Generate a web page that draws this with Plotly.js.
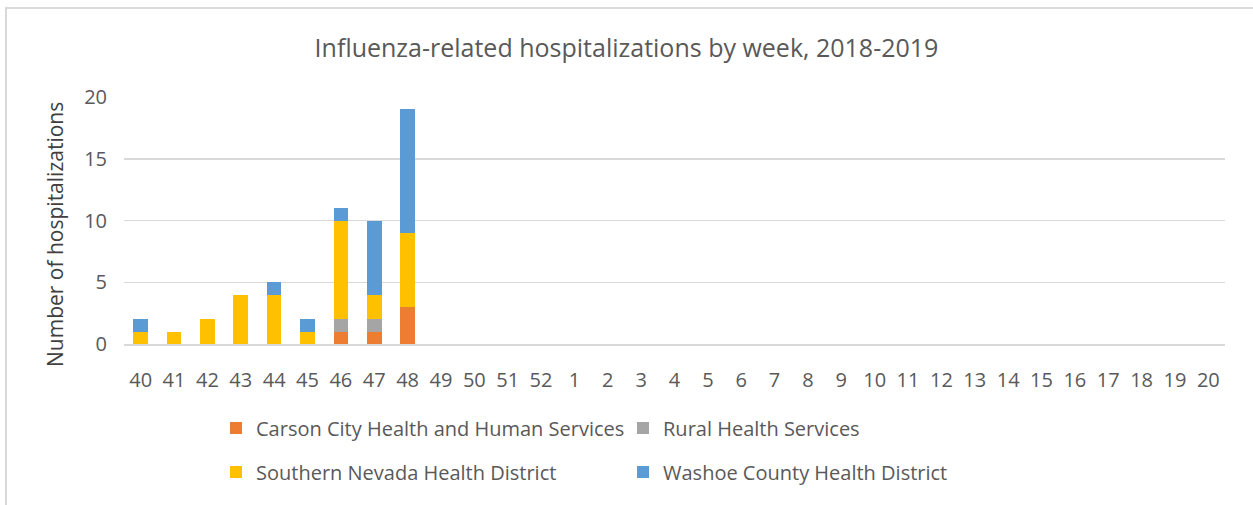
<!DOCTYPE html>
<html>
<head>
<meta charset="utf-8">
<script src="https://cdn.plot.ly/plotly-3.0.1.min.js"></script>
<style>
html,body{margin:0;padding:0;background:#fff;}
#chart{width:1253px;height:505px;}
</style>
</head>
<body>
<div id="chart"></div>
<script>
const weeks = ["40","41","42","43","44","45","46","47","48","49","50","51","52","1","2","3","4","5","6","7","8","9","10","11","12","13","14","15","16","17","18","19","20"];
const carson   = [0,0,0,0,0,0,1,1,3,0,0,0,0,0,0,0,0,0,0,0,0,0,0,0,0,0,0,0,0,0,0,0,0];
const rural    = [0,0,0,0,0,0,1,1,0,0,0,0,0,0,0,0,0,0,0,0,0,0,0,0,0,0,0,0,0,0,0,0,0];
const southern = [1,1,2,4,4,1,8,2,6,0,0,0,0,0,0,0,0,0,0,0,0,0,0,0,0,0,0,0,0,0,0,0,0];
const washoe   = [1,0,0,0,1,1,1,6,10,0,0,0,0,0,0,0,0,0,0,0,0,0,0,0,0,0,0,0,0,0,0,0,0];
const seriesNames = ["Carson City Health and Human Services","Rural Health Services","Southern Nevada Health District","Washoe County Health District"];
const seriesColors = ["#ED7D31","#A5A5A5","#FFC000","#5B9BD5"];
const seriesValues = [carson, rural, southern, washoe];
const legendIds = ["legend","legend","legend2","legend2"];

const fontFam = "Open Sans, Liberation Sans, sans-serif";
const traces = seriesValues.map((v,i)=>({
  type:"bar", x:weeks, y:v, name:seriesNames[i],
  marker:{color:seriesColors[i], line:{width:0}},
  legend:legendIds[i],
  hoverinfo:"x+y+name"
}));

const legendBase = {orientation:"h", xref:"container", yref:"container", x:0.1724, xanchor:"left", yanchor:"middle", entrywidth:362, entrywidthmode:"pixels", font:{family:fontFam, size:20, color:"#595959"}, traceorder:"normal", bgcolor:"rgba(0,0,0,0)"};

const layout = {
  width:1253, height:505,
  barmode:"stack", bargap:0.56,
  paper_bgcolor:"#fff", plot_bgcolor:"#fff",
  margin:{l:124, r:28, t:97, b:161},
  font:{family:fontFam, color:"#595959", size:20},
  title:{text:"Influenza-related hospitalizations by week, 2018-2019", x:0.5, xref:"container", y:0.905, yref:"container", yanchor:"middle", font:{family:fontFam, size:25, color:"#595959"}},
  xaxis:{type:"category", tickfont:{size:20, color:"#595959"}, showline:true, linecolor:"#D9D9D9", linewidth:1.5, ticks:"", showgrid:false, zeroline:false, ticklabelstandoff:17},
  yaxis:{range:[0,20], dtick:5, tick0:0, showgrid:true, gridcolor:"#D9D9D9", gridwidth:1.5, zeroline:false, showline:false, ticks:"", tickfont:{size:20, color:"#595959"}, ticklabelstandoff:16},
  annotations:[{text:"Number of hospitalizations", textangle:-90, xref:"paper", yref:"paper", x:(55-124)/1101, y:(344-235)/247, xanchor:"center", yanchor:"middle", showarrow:false, font:{family:fontFam, size:21, color:"#404040"}}],
  legend:Object.assign({}, legendBase, {y:(505-428)/505}),
  legend2:Object.assign({}, legendBase, {y:(505-472)/505}),
  shapes:[{type:"rect", xref:"paper", yref:"paper", x0:(6-124)/1101, x1:(1260-124)/1101, y0:(344-510)/247, y1:(344-8)/247, line:{color:"#D9D9D9", width:2}, fillcolor:"rgba(0,0,0,0)", layer:"below"}]
};
Plotly.newPlot("chart", traces, layout, {displayModeBar:false, staticPlot:true});
</script>
</body>
</html>
